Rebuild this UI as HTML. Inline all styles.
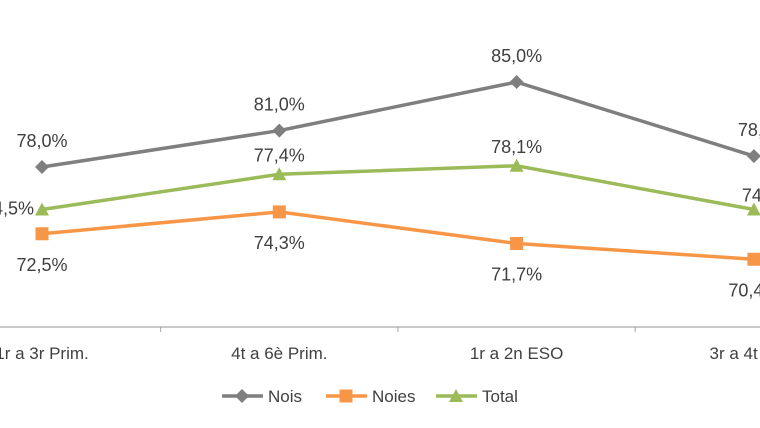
<!DOCTYPE html>
<html><head><meta charset="utf-8"><style>
body{margin:0;background:#fff;}
svg{display:block;font-family:"Liberation Sans",sans-serif;}
</style></head><body>
<svg id="chart" width="760" height="428" viewBox="0 0 760 428" xmlns="http://www.w3.org/2000/svg"></svg>
<script>
const categories=["1r a 3r Prim.","4t a 6è Prim.","1r a 2n ESO","3r a 4t ESO"];
const nois=[78.0,81.0,85.0,78.9];
const noies=[72.5,74.3,71.7,70.4];
const total=[74.5,77.4,78.1,74.5];
const seriesNames=["Nois","Noies","Total"];
const NS="http://www.w3.org/2000/svg";
const svg=document.getElementById('chart');
const step=237.3;
function x(i){return 42+i*step;}
function y(v){return 167-(v-78)*12.14;}
function el(t,a,p){const e=document.createElementNS(NS,t);for(const k in a)e.setAttribute(k,a[k]);(p||svg).appendChild(e);return e;}
function fmt(v){return v.toFixed(1).replace('.',',')+'%';}
const axis=el('line',{x1:0,y1:327,x2:760,y2:327,stroke:'#a6a6a6','stroke-width':1.2});


for(let i=0;i<categories.length;i++){
  const tk=el('line',{x1:x(i)+step/2,y1:327,x2:x(i)+step/2,y2:332,stroke:'#a6a6a6','stroke-width':1});
  
  
}
categories.forEach((c,i)=>{
  const t=el('text',{x:x(i),y:359,'text-anchor':'middle','font-size':17,fill:'#404040'});
  t.textContent=c;
  
  
});
const defs=[
 {data:nois,color:'#7f7f7f',marker:'diamond',dy:-20,name:'nois'},
 {data:noies,color:'#f79646',marker:'square',dy:37,name:'noies'},
 {data:total,color:'#9bbb59',marker:'triangle',dy:-13,name:'total'}];
function marker(type,cx,cy,color,g){
  if(type==='diamond')return el('polygon',{points:`${cx},${cy-7} ${cx+7},${cy} ${cx},${cy+7} ${cx-7},${cy}`,fill:color},g);
  if(type==='square')return el('rect',{x:cx-6.5,y:cy-6.5,width:13,height:13,fill:color},g);
  return el('polygon',{points:`${cx},${cy-7} ${cx+7},${cy+6} ${cx-7},${cy+6}`,fill:color},g);
}
defs.forEach(s=>{
  const g=el('g',{});
  
  
  const pl=el('polyline',{points:s.data.map((v,i)=>x(i)+','+y(v)).join(' '),fill:'none',stroke:s.color,'stroke-width':3.5},g);
  
  
  s.data.forEach((v,i)=>{
    const m=marker(s.marker,x(i),y(v),s.color,g);
    
    
    let lx=x(i),ly=y(v)+s.dy,anchor='middle';
    if(s.name==='total'&&i===0){lx=x(i)-8;ly=y(v)+5;anchor='end';}
    if(s.name==='total'&&i===3){lx=x(i)-12;ly=y(v)-8;anchor='start';}
    if(s.name==='nois'&&i===3){lx=x(i)-16;anchor='start';}
    const t=el('text',{x:lx,y:ly,'text-anchor':anchor,'font-size':18,fill:'#404040'},g);
    t.textContent=fmt(v);
    
    
  });
});
const lx=[222,326,436];
defs.forEach((s,i)=>{
  const g=el('g',{});
  
  
  el('line',{x1:lx[i],y1:396,x2:lx[i]+41,y2:396,stroke:s.color,'stroke-width':3.5},g);
  marker(s.marker,lx[i]+20,396,s.color,g);
  const t=el('text',{x:lx[i]+46,y:402,'font-size':17,fill:'#404040'},g);
  t.textContent=seriesNames[i];
});
</script>
</body></html>
